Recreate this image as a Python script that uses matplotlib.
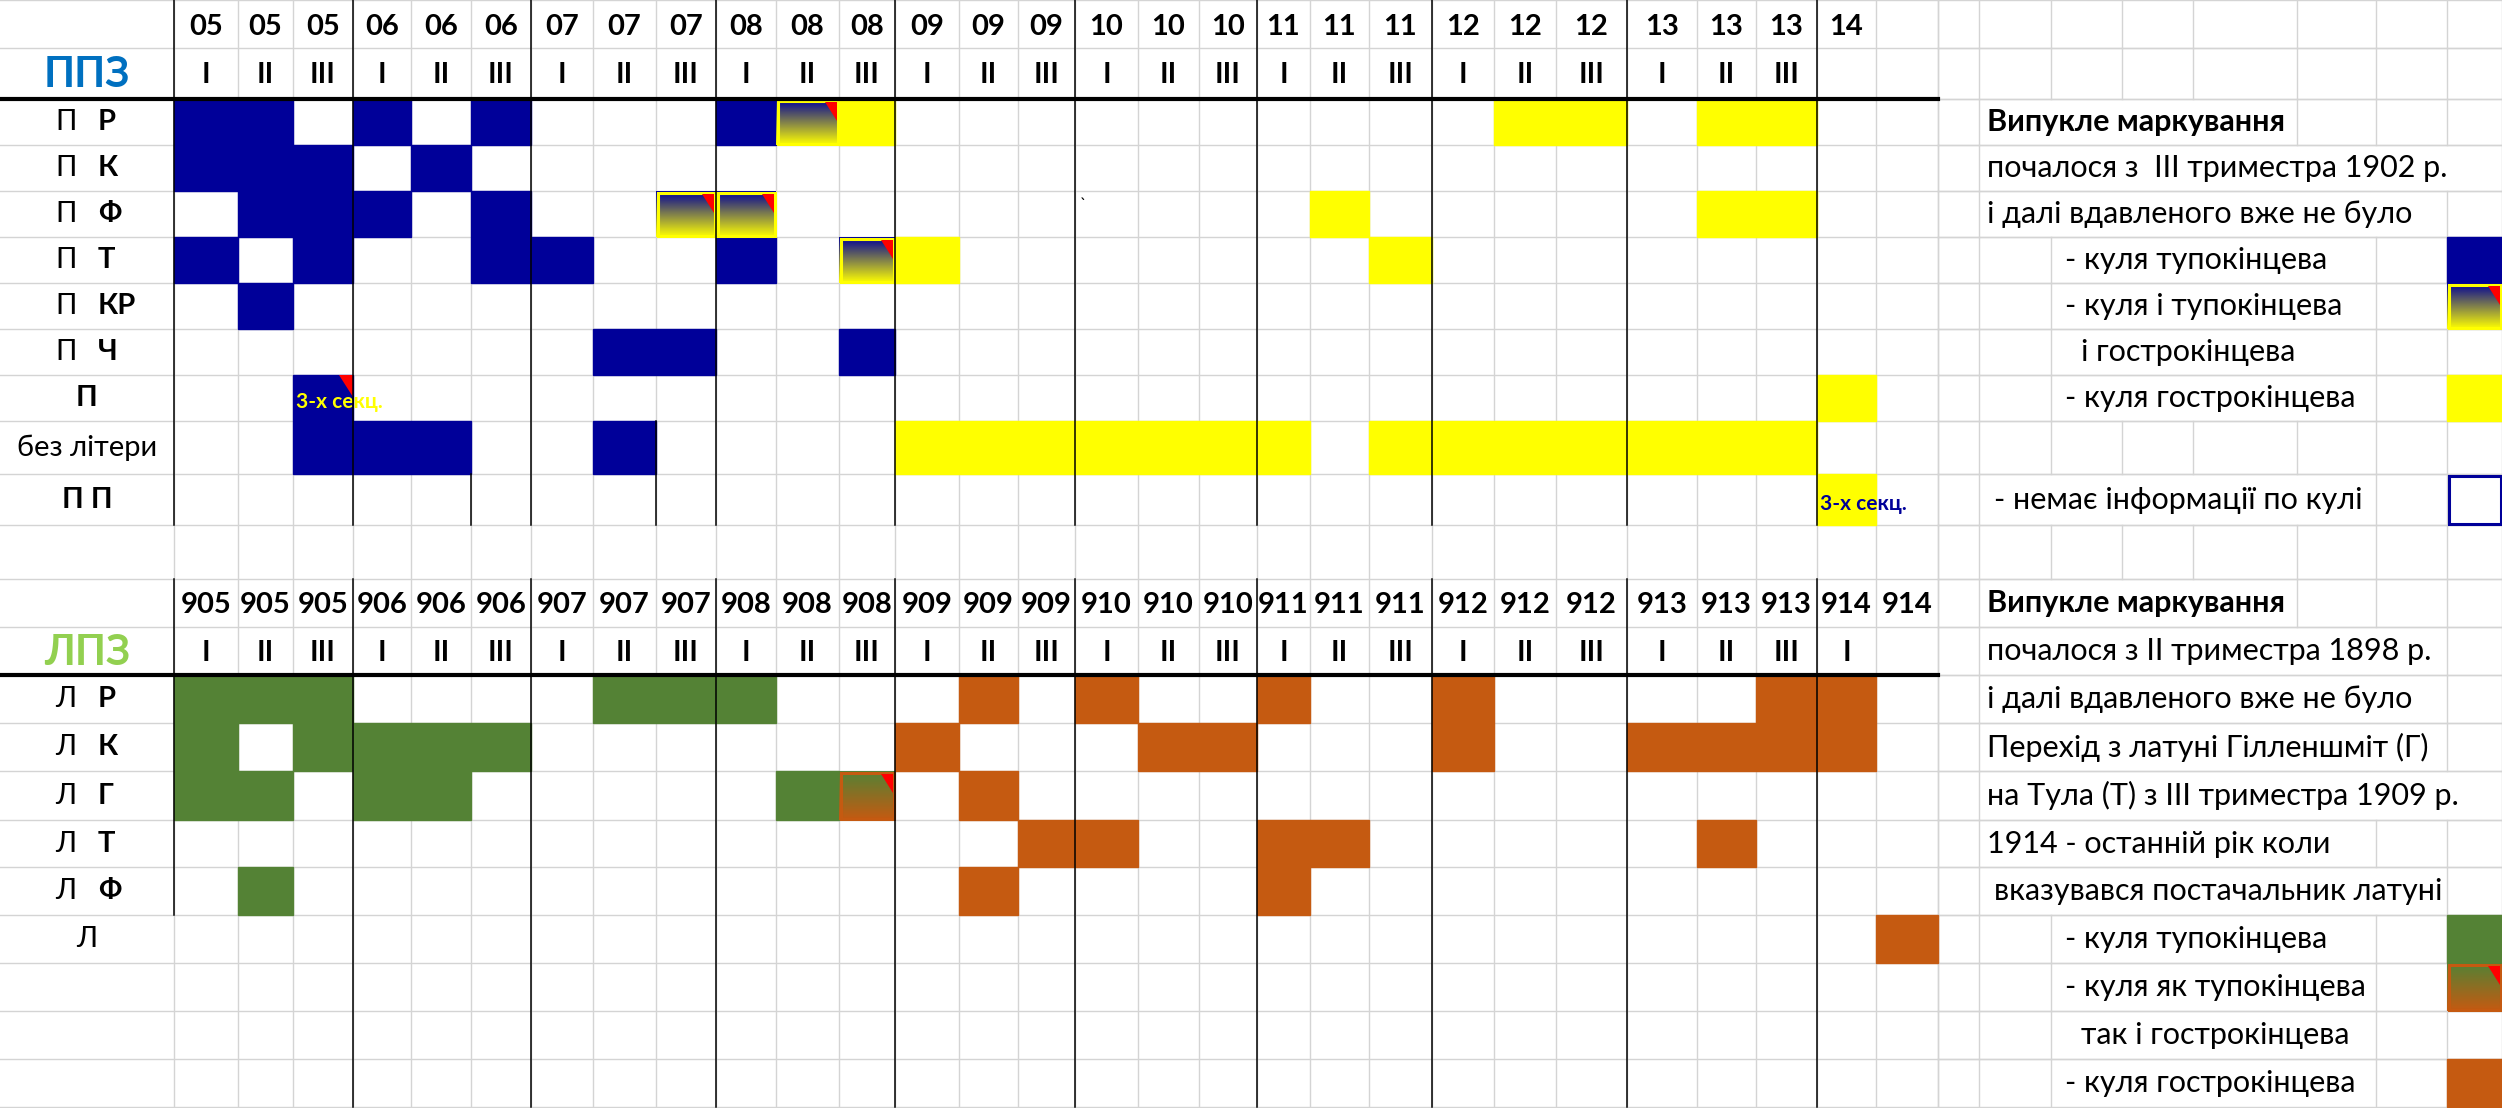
import matplotlib
matplotlib.use("Agg")
import matplotlib.pyplot as plt
import numpy as np
from matplotlib.patches import Rectangle, Polygon

FONT = "Lato"
# ---- layout of the sheet (pixel grid) ----
col_edges = [174, 238, 293, 353, 411, 471, 531, 593, 656, 716, 776, 839, 895, 959, 1018, 1075,
             1138, 1199, 1257, 1310, 1369, 1432, 1494, 1556, 1627, 1697, 1756, 1817, 1876, 1938]
right_edges = [1938, 1979, 2051, 2122, 2193, 2297, 2376, 2447, 2502]
row_edges = [0, 48, 99, 145, 191, 237, 283, 329, 375, 421, 474, 525, 579, 627, 675, 723, 771,
             820, 867, 915, 963, 1011, 1059, 1107]

# ---- data ----
top_years = ["05"]*3 + ["06"]*3 + ["07"]*3 + ["08"]*3 + ["09"]*3 + ["10"]*3 + ["11"]*3 + ["12"]*3 + ["13"]*3 + ["14", ""]
top_roman = ["I", "II", "III"]*9 + ["", ""]
bot_years = ["905"]*3 + ["906"]*3 + ["907"]*3 + ["908"]*3 + ["909"]*3 + ["910"]*3 + ["911"]*3 + ["912"]*3 + ["913"]*3 + ["914", "914"]
bot_roman = ["I", "II", "III"]*9 + ["I", ""]

top_rows = [("П", "Р"), ("П", "К"), ("П", "Ф"), ("П", "Т"), ("П", "КР"), ("П", "Ч"), ("", "П"), ("без літери", None), ("", "П П")]
top_blue = [[0, 1, 3, 5, 9], [0, 1, 2, 4], [1, 2, 3, 5], [0, 2, 5, 6, 9], [1], [7, 8, 11], [2], [2, 3, 4, 7], []]
top_mixed = [[10], [], [8, 9], [11], [], [], [], [], []]
top_yellow = [[11, 22, 23, 25, 26], [], [19, 25, 26], [12, 20], [], [], [27],
              [12, 13, 14, 15, 16, 17, 18, 20, 21, 22, 23, 24, 25, 26], [27]]

bot_rows = [("Л", "Р"), ("Л", "К"), ("Л", "Г"), ("Л", "Т"), ("Л", "Ф"), ("Л", None)]
bot_green = [[0, 1, 2, 7, 8, 9], [0, 2, 3, 4, 5], [0, 1, 3, 4, 10], [], [1], []]
bot_mixed = [[], [], [11], [], [], []]
bot_orange = [[13, 15, 18, 21, 26, 27], [12, 16, 17, 21, 24, 25, 26, 27], [13], [14, 15, 18, 19, 25], [13, 18], [28]]

top_notes = ["Випукле маркування", "почалося з  ІІІ триместра 1902 р.", "і далі вдавленого вже не було",
             "- куля тупокінцева", "- куля і тупокінцева", "і гострокінцева", "- куля гострокінцева", "",
             " - немає інформації по кулі"]
bot_notes = ["Випукле маркування", "почалося з ІІ триместра 1898 р.", "і далі вдавленого вже не було",
             "Перехід з латуні Гілленшміт (Г)", "на Тула (Т) з ІІІ триместра 1909 р.", "1914 - останній рік коли",
             " вказувався постачальник латуні", "- куля тупокінцева", "- куля як тупокінцева",
             "так і гострокінцева", "- куля гострокінцева"]

BLUE = "#000099"; YELLOW = "#FFFF00"; GREEN = "#548235"; ORANGE = "#C55A11"; GRID = "#D4D4D4"

fig = plt.figure(figsize=(25.02, 11.08), dpi=100)
ax = fig.add_axes([0, 0, 1, 1])
ax.set_xlim(0, 2502); ax.set_ylim(1108, 0); ax.axis("off")

# light grid in data area and label column
for y in row_edges:
    ax.plot([0, 1938], [y, y], color=GRID, lw=1, zorder=1)
for x in col_edges:
    ax.plot([x, x], [0, 1108], color=GRID, lw=1, zorder=1)

def cell(c, r):
    return col_edges[c], col_edges[c+1], row_edges[r], row_edges[r+1]

def fill(x0, x1, y0, y1, color):
    ax.add_patch(Rectangle((x0, y0), x1-x0, y1-y0, facecolor=color, edgecolor=color, lw=1, zorder=2))

def mixed(x0, x1, y0, y1, c_top, c_bot, border):
    t = np.linspace(0, 1, 64)[:, None, None]
    a = np.array(matplotlib.colors.to_rgb(c_top)); b = np.array(matplotlib.colors.to_rgb(c_bot))
    img = (1-t)*a + t*b
    img = np.repeat(img, 2, axis=1)
    ax.imshow(img, extent=(x0, x1, y1, y0), aspect="auto", zorder=2, interpolation="bilinear")
    ax.add_patch(Rectangle((x0+1.5, y0+1.5), x1-x0-3, y1-y0-3, fill=False, edgecolor=border, lw=2.2, zorder=3))
    ax.add_patch(Polygon([(x1-14, y0+3), (x1-2, y0+3), (x1-2, y0+22)], closed=True, facecolor="red", edgecolor="none", zorder=4))

for i in range(9):
    r = 2 + i
    for c in top_blue[i]:
        fill(*cell(c, r), BLUE)
    for c in top_yellow[i]:
        fill(*cell(c, r), YELLOW)
    for c in top_mixed[i]:
        mixed(*cell(c, r), BLUE, YELLOW, YELLOW)
for i in range(6):
    r = 14 + i
    for c in bot_green[i]:
        fill(*cell(c, r), GREEN)
    for c in bot_orange[i]:
        fill(*cell(c, r), ORANGE)
    for c in bot_mixed[i]:
        mixed(*cell(c, r), GREEN, ORANGE, ORANGE)

# red corner on "3-х секц." cell
x0, x1, y0, y1 = cell(2, 8)
ax.add_patch(Polygon([(x1-14, y0), (x1, y0), (x1, y0+22)], closed=True, facecolor="red", edgecolor="none", zorder=4))
ax.text(x0+3, (y0+y1)/2+4, "3-х секц.", color=YELLOW, fontsize=15, fontweight="bold", family=FONT, va="center", zorder=5)
x0, x1, y0, y1 = cell(27, 10)
ax.text(x0+3, (y0+y1)/2+4, "3-х секц.", color=BLUE, fontsize=15, fontweight="bold", family=FONT, va="center", zorder=5)
ax.text(1083, 205, "`", fontsize=12, family=FONT, ha="center", va="center", zorder=5)

# headers
def mid(c):
    return (col_edges[c] + col_edges[c+1]) / 2
for c in range(29):
    ax.text(mid(c), 27, top_years[c], fontsize=21, fontweight="bold", family=FONT, ha="center", va="center", zorder=5)
    ax.text(mid(c), 75, top_roman[c], fontsize=21, fontweight="bold", family=FONT, ha="center", va="center", zorder=5)
    ax.text(mid(c), 605, bot_years[c], fontsize=21, fontweight="bold", family=FONT, ha="center", va="center", zorder=5)
    ax.text(mid(c), 653, bot_roman[c], fontsize=21, fontweight="bold", family=FONT, ha="center", va="center", zorder=5)
ax.text(87, 75, "ППЗ", color="#0070C0", fontsize=30, fontweight="bold", family=FONT, ha="center", va="center", zorder=5)
ax.text(87, 653, "ЛПЗ", color="#92D050", fontsize=30, fontweight="bold", family=FONT, ha="center", va="center", zorder=5)

def row_label(r, a, b):
    yc = (row_edges[r] + row_edges[r+1]) / 2
    if b is None:
        ax.text(87, yc, a, fontsize=21, family=FONT, ha="center", va="center", zorder=5)
    elif a == "":
        ax.text(87, yc, b, fontsize=21, fontweight="bold", family=FONT, ha="center", va="center", zorder=5)
    else:
        ax.text(66, yc, a, fontsize=21, family=FONT, ha="center", va="center", zorder=5)
        ax.text(98, yc, b, fontsize=21, fontweight="bold", family=FONT, ha="left", va="center", zorder=5)
for i, (a, b) in enumerate(top_rows):
    row_label(2+i, a, b)
for i, (a, b) in enumerate(bot_rows):
    if b is None:
        row_label(14+i, a, None)
    else:
        row_label(14+i, a, b)

# black structure lines
year_lines = [353, 531, 716, 895, 1075, 1257, 1432, 1627, 1817]
for x in year_lines:
    ax.plot([x, x], [0, 525], color="black", lw=1.1, zorder=6)
    ax.plot([x, x], [579, 1107], color="black", lw=1.1, zorder=6)
ax.plot([174, 174], [0, 525], color="black", lw=1.1, zorder=6)
ax.plot([174, 174], [579, 915], color="black", lw=1.1, zorder=6)
ax.plot([656, 656], [421, 525], color="black", lw=1.1, zorder=6)
ax.plot([471, 471], [474, 525], color="black", lw=1.1, zorder=6)
ax.plot([0, 1938], [99, 99], color="black", lw=3, zorder=6)
ax.plot([0, 1938], [675, 675], color="black", lw=3, zorder=6)

# right-hand notes
renderer = fig.canvas.get_renderer()
inv = ax.transData.inverted()
def note_row(r, txt, bold=False):
    y0, y1 = row_edges[r], row_edges[r+1]
    ax.plot([1938, 2502], [y0, y0], color=GRID, lw=1, zorder=1)
    ax.plot([1938, 2502], [y1, y1], color=GRID, lw=1, zorder=1)
    span = None
    if txt.strip():
        stripped = txt.lstrip(" ")
        if stripped.startswith("- к"):
            x = 2065
        elif stripped.startswith("і гостр") or stripped.startswith("так"):
            x = 2081
        elif txt.startswith(" "):
            x = 1994
        else:
            x = 1987
        t = ax.text(x, (y0+y1)/2, stripped, fontsize=22, fontweight="bold" if bold else "normal",
                    family=FONT, ha="left", va="center", zorder=5)
        bb = t.get_window_extent(renderer)
        (bx0, _), (bx1, _) = inv.transform([(bb.x0, bb.y0), (bb.x1, bb.y1)])
        span = (bx0 - 2, bx1 + 2)
    for x in right_edges:
        if span and span[0] < x < span[1]:
            continue
        ax.plot([x, x], [y0, y1], color=GRID, lw=1, zorder=1)

for r in [0, 1, 11]:
    note_row(r, "")
for i, t in enumerate(top_notes):
    note_row(2+i, t, bold=(i == 0))
for i, t in enumerate(bot_notes):
    note_row(12+i, t, bold=(i == 0))

# legend swatches
lx0, lx1 = 2447, 2502
fill(lx0, lx1, row_edges[5], row_edges[6], BLUE)
mixed(lx0, lx1, row_edges[6], row_edges[7], BLUE, YELLOW, YELLOW)
fill(lx0, lx1, row_edges[8], row_edges[9], YELLOW)
ax.add_patch(Rectangle((lx0+1.5, row_edges[10]+1.5), lx1-lx0-3, row_edges[11]-row_edges[10]-3, fill=False, edgecolor=BLUE, lw=2.2, zorder=3))
fill(lx0, lx1, row_edges[19], row_edges[20], GREEN)
mixed(lx0, lx1, row_edges[20], row_edges[21], GREEN, ORANGE, ORANGE)
fill(lx0, lx1, row_edges[22], row_edges[23], ORANGE)

fig.savefig("out.png", dpi=100, facecolor="white")
